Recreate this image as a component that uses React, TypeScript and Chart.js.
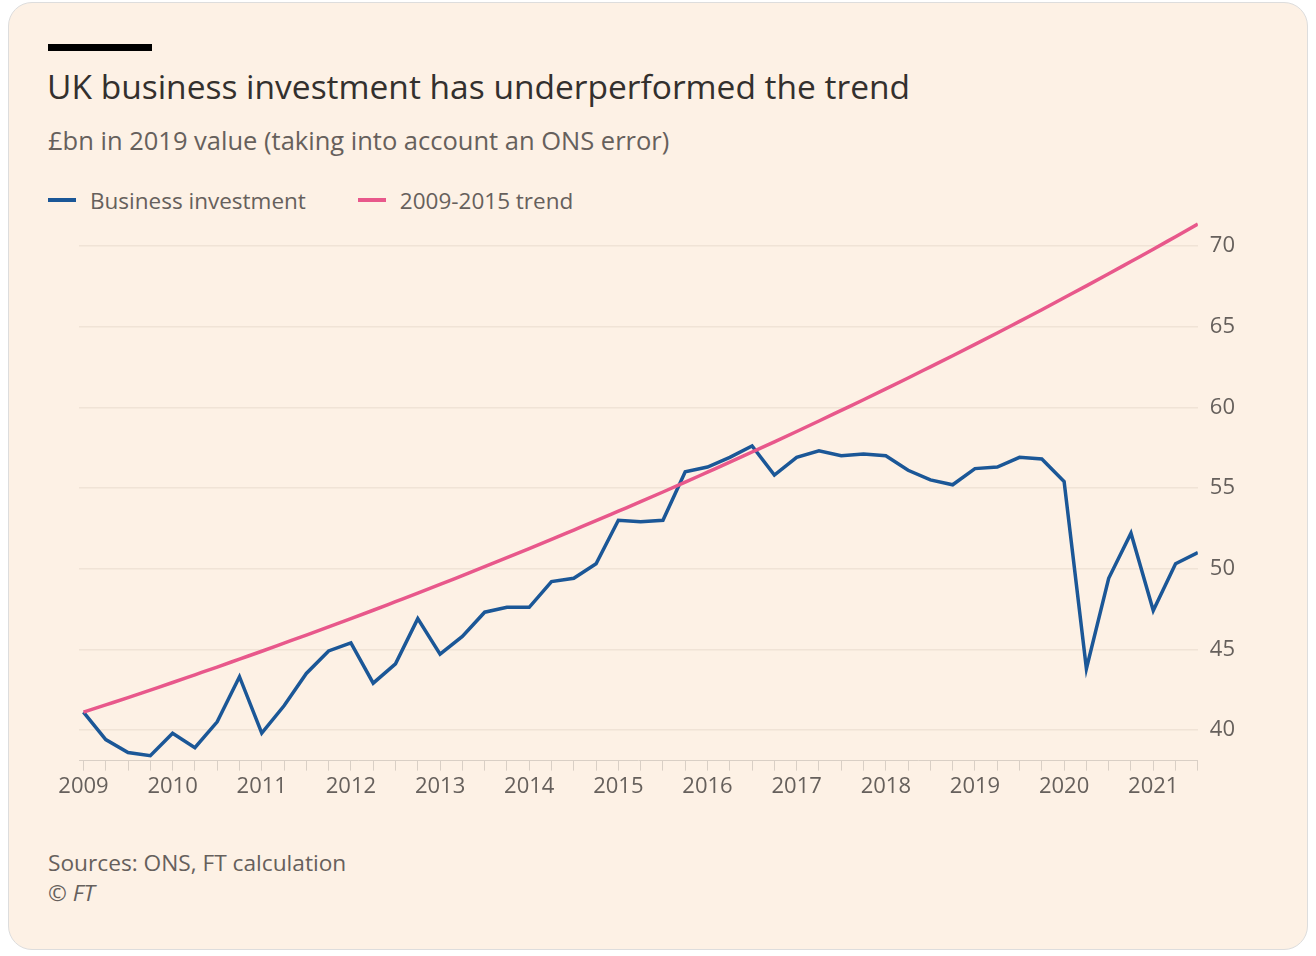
import React, { useEffect, useRef } from "react";
import { Chart, registerables } from "chart.js";
Chart.register(...registerables);

const quarters: number[] = Array.from({ length: 51 }, (_, i) => 2009 + i / 4);
const investment = [41.1, 39.4, 38.6, 38.4, 39.8, 38.9, 40.5, 43.3, 39.8, 41.5, 43.5, 44.9, 45.4, 42.9, 44.1, 46.9, 44.7, 45.8, 47.3, 47.6, 47.6, 49.2, 49.4, 50.3, 53.0, 52.9, 53.0, 56.0, 56.3, 56.9, 57.6, 55.8, 56.9, 57.3, 57.0, 57.1, 57.0, 56.1, 55.5, 55.2, 56.2, 56.3, 56.9, 56.8, 55.4, 43.8, 49.4, 52.2, 47.4, 50.3, 51.0];
const trend = [41.1, 41.55, 42.0, 42.47, 42.94, 43.42, 43.9, 44.39, 44.88, 45.38, 45.88, 46.39, 46.9, 47.42, 47.95, 48.48, 49.02, 49.57, 50.12, 50.68, 51.24, 51.81, 52.39, 52.97, 53.56, 54.15, 54.75, 55.36, 55.98, 56.6, 57.23, 57.86, 58.5, 59.15, 59.81, 60.47, 61.14, 61.82, 62.51, 63.2, 63.9, 64.61, 65.33, 66.05, 66.79, 67.53, 68.28, 69.04, 69.8, 70.58, 71.36];
const yTicks = [40, 45, 50, 55, 60, 65, 70];

const FONT = "'Open Sans', 'Noto Sans', sans-serif";

export default function App() {
  const ref = useRef<HTMLCanvasElement>(null);
  useEffect(() => {
    const chart = new Chart(ref.current!, {
      type: "line",
      data: {
        datasets: [
          { label: "2009-2015 trend", data: quarters.map((x, i) => ({ x, y: trend[i] })), borderColor: "#e8588b", borderWidth: 3.5, pointRadius: 0, cubicInterpolationMode: "monotone" },
          { label: "Business investment", data: quarters.map((x, i) => ({ x, y: investment[i] })), borderColor: "#1b5797", borderWidth: 3.5, pointRadius: 0, tension: 0 },
        ],
      },
      options: {
        animation: false,
        responsive: false,
        layout: { padding: { left: 30, right: 22, top: 0, bottom: 0 } },
        plugins: { legend: { display: false }, tooltip: { enabled: false } },
        scales: {
          x: {
            type: "linear", min: 2008.95, max: 2021.5,
            afterBuildTicks: (s: any) => { s.ticks = quarters.map((v) => ({ value: v })); },
            grid: { drawOnChartArea: false, color: "#d9cfc5", tickLength: 10 },
            border: { color: "#d9cfc5" },
            ticks: { autoSkip: false, maxRotation: 0, color: "#66605c", font: { family: FONT, size: 22 }, callback: (v: any) => (Number.isInteger(v) ? String(v) : "") },
          },
          y: {
            position: "right", min: 38.1, max: 71.6,
            afterBuildTicks: (s: any) => { s.ticks = yTicks.map((v) => ({ value: v })); },
            grid: { color: "#f0e3d6", drawTicks: false, lineWidth: 1.5 },
            border: { display: false },
            ticks: { padding: 12, color: "#66605c", font: { family: FONT, size: 22 } },
          },
        },
      },
    });
    return () => chart.destroy();
  }, []);
  const legendItem = (c: string, t: string) => (
    <span style={{ display: "inline-flex", alignItems: "center", marginRight: 52 }}>
      <span style={{ width: 28, height: 4, background: c, display: "inline-block", marginRight: 14 }} />
      {t}
    </span>
  );
  return (
    <div style={{ position: "absolute", left: 8, top: 2, width: 1298, height: 946, background: "#fdf1e5", border: "1px solid #ddd", borderRadius: 24, fontFamily: FONT, color: "#33302e", overflow: "hidden" }}>
      <div style={{ position: "absolute", left: 39, top: 41, width: 104, height: 7, background: "#000" }} />
      <div style={{ position: "absolute", left: 38, top: 60, fontSize: 33.5, whiteSpace: "nowrap" }}>UK business investment has underperformed the trend</div>
      <div style={{ position: "absolute", left: 39, top: 120, fontSize: 25.5, color: "#66605c", whiteSpace: "nowrap" }}>£bn in 2019 value (taking into account an ONS error)</div>
      <div style={{ position: "absolute", left: 39, top: 175, fontSize: 22.5, color: "#66605c", whiteSpace: "nowrap" }}>
        {legendItem("#1b5797", "Business investment")}
        {legendItem("#e8588b", "2009-2015 trend")}
      </div>
      <canvas ref={ref} width={1220} height={608} style={{ position: "absolute", left: 40, top: 192 }} />
      <div style={{ position: "absolute", left: 39, top: 844, fontSize: 22.7, color: "#66605c" }}>Sources: ONS, FT calculation</div>
      <div style={{ position: "absolute", left: 39, top: 874, fontSize: 22.7, color: "#66605c", fontStyle: "italic" }}>© FT</div>
    </div>
  );
}
